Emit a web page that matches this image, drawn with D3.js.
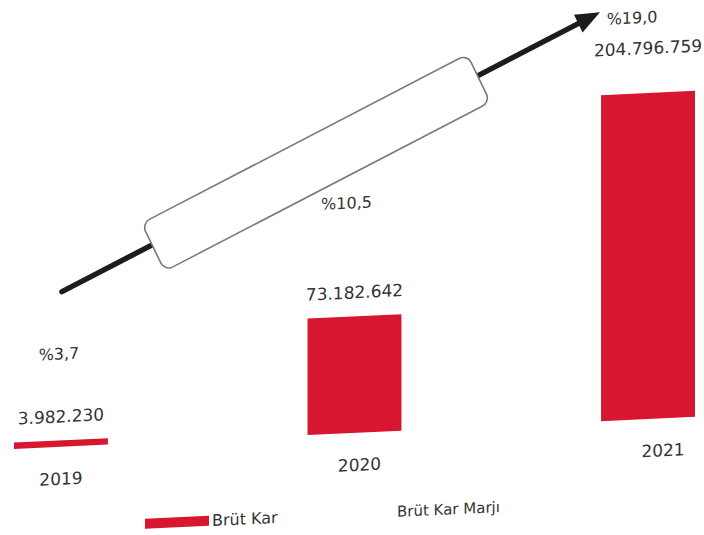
<!DOCTYPE html>
<html>
<head>
<meta charset="utf-8">
<script src="https://cdn.jsdelivr.net/npm/d3@7"></script>
<style>
  html, body { margin: 0; padding: 0; background: #fff; }
  svg { display: block; }
  text { font-family: "DejaVu Sans", sans-serif; fill: #333; }
</style>
</head>
<body>
<script>
// ---- data ----
const years = ["2019", "2020", "2021"];
const grossProfit = [3982230, 73182642, 204796759];
const grossMargin = [3.7, 10.5, 19.0];
const profitLabels = ["3.982.230", "73.182.642", "204.796.759"];
const marginLabels = ["%3,7", "%10,5", "%19,0"];
const legendLabels = ["Brüt Kar", "Brüt Kar Marjı"];

// ---- layout ----
const W = 704, H = 535;
const barColor = "#d7172f";
const skewDeg = -2.7;
const tanS = Math.tan(skewDeg * Math.PI / 180);
const pivotX = 352;

const svg = d3.select("body").append("svg").attr("width", W).attr("height", H);
const g = svg.append("g")
  .attr("transform", `translate(0,${-tanS * pivotX}) skewY(${skewDeg})`);

const x = d3.scaleBand().domain(years).range([14, 695]).paddingInner(0.68).paddingOuter(0);
const y = d3.scaleLinear().domain([0, 204796759]).range([433, 107]);
const yM = d3.scaleLinear().domain([0, 20]).range([415, 11]);
const xc = d => x(d) + x.bandwidth() / 2;

// ---- trend arrow (Brüt Kar Marjı) ----
const tail = [62, 278], tip = [600, 24];
const dx = tip[0] - tail[0], dy = tip[1] - tail[1];
const len = Math.hypot(dx, dy);
const ux = dx / len, uy = dy / len, nx = -uy, ny = ux;
const headLen = 24, headHalf = 10;
const base = [tip[0] - ux * headLen, tip[1] - uy * headLen];
g.append("line")
  .attr("x1", tail[0]).attr("y1", tail[1])
  .attr("x2", base[0] + ux * 2).attr("y2", base[1] + uy * 2)
  .attr("stroke", "#1c1c1c").attr("stroke-width", 5.5).attr("stroke-linecap", "round");
g.append("path")
  .attr("d", d3.line()([
    tip,
    [base[0] + nx * headHalf, base[1] + ny * headHalf],
    [base[0] - nx * headHalf, base[1] - ny * headHalf]
  ]) + "Z")
  .attr("fill", "#1c1c1c");

// box along arrow
const boxC = [316, 161], boxLen = 360, boxW = 54;
const ang = Math.atan2(dy, dx) * 180 / Math.PI;
g.append("rect")
  .attr("transform", `translate(${boxC[0]},${boxC[1]}) rotate(${ang})`)
  .attr("x", -boxLen / 2).attr("y", -boxW / 2)
  .attr("width", boxLen).attr("height", boxW)
  .attr("rx", 9).attr("ry", 9)
  .attr("fill", "#fff").attr("stroke", "#7a7a7a").attr("stroke-width", 1.6);

// ---- bars ----
g.selectAll("rect.bar").data(grossProfit).enter().append("rect")
  .attr("class", "bar")
  .attr("x", (d, i) => x(years[i]))
  .attr("y", d => y(d))
  .attr("width", x.bandwidth())
  .attr("height", d => y(0) - y(d))
  .attr("fill", barColor);

// value labels
const lift = [24, 24, 45];
g.selectAll("text.val").data(profitLabels).enter().append("text")
  .attr("class", "val")
  .attr("x", (d, i) => xc(years[i]))
  .attr("y", (d, i) => y(grossProfit[i]) - lift[i])
  .attr("text-anchor", "middle").attr("dominant-baseline", "central")
  .attr("font-size", 17)
  .text(d => d);

// margin labels
const mShift = [-2, -8, -16];
g.selectAll("text.mar").data(marginLabels).enter().append("text")
  .attr("class", "mar")
  .attr("x", (d, i) => xc(years[i]) + mShift[i])
  .attr("y", (d, i) => yM(grossMargin[i]))
  .attr("text-anchor", "middle").attr("dominant-baseline", "central")
  .attr("font-size", 16)
  .text(d => d);

// year labels (category axis)
const yearShift = [0, 5, 15];
g.selectAll("text.yr").data(years).enter().append("text")
  .attr("class", "yr")
  .attr("x", (d, i) => xc(d) + yearShift[i])
  .attr("y", 465)
  .attr("text-anchor", "middle").attr("dominant-baseline", "central")
  .attr("font-size", 17)
  .text(d => d);

// ---- legend ----
const lg = g.append("g");
lg.append("rect").attr("x", 145).attr("y", 509).attr("width", 64).attr("height", 10).attr("fill", barColor);
lg.append("text").attr("x", 212).attr("y", 514).attr("dominant-baseline", "central")
  .attr("font-size", 16).text(legendLabels[0]);
lg.append("text").attr("x", 397).attr("y", 514).attr("dominant-baseline", "central")
  .attr("font-size", 15).text(legendLabels[1]);
</script>
</body>
</html>
